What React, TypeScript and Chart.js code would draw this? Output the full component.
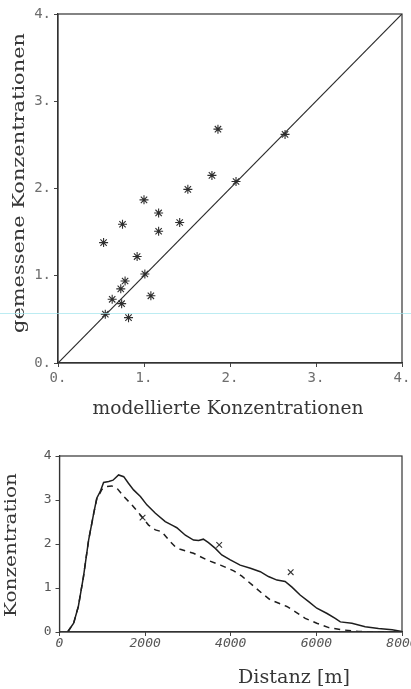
import React, { useEffect, useRef } from "react";
import { Chart, registerables } from "chart.js";

Chart.register(...registerables);

// ---------- top chart data ----------
const modelled = [0.53, 1.0, 1.17, 1.17, 0.75, 1.415, 1.51, 0.92, 1.01, 0.78, 0.73, 0.63, 0.74, 1.08, 0.55, 0.82, 2.07, 1.86, 1.79, 2.64];
const measured = [1.38, 1.87, 1.72, 1.51, 1.59, 1.61, 1.99, 1.22, 1.02, 0.94, 0.85, 0.73, 0.68, 0.77, 0.56, 0.52, 2.08, 2.68, 2.15, 2.62];
const diagonalX = [0, 4];
const diagonalY = [0, 4];

// ---------- bottom chart data ----------
const distSolid = [190, 330, 440, 560, 680, 800, 870, 950, 1030, 1150, 1250, 1380, 1500, 1610, 1730, 1890, 2040, 2240, 2470, 2660, 2740, 2940, 3130, 3250, 3360, 3480, 3640, 3790, 3990, 4220, 4460, 4690, 4880, 5080, 5270, 5430, 5620, 5820, 6010, 6250, 6440, 6560, 6830, 7140, 7450, 7770, 8000];
const concSolid = [0, 0.2, 0.58, 1.26, 2.09, 2.7, 3.04, 3.19, 3.4, 3.42, 3.45, 3.57, 3.53, 3.38, 3.23, 3.08, 2.89, 2.7, 2.51, 2.41, 2.37, 2.2, 2.09, 2.08, 2.11, 2.03, 1.9, 1.75, 1.64, 1.52, 1.45, 1.37, 1.26, 1.18, 1.15, 1.02, 0.84, 0.69, 0.54, 0.42, 0.31, 0.23, 0.2, 0.12, 0.08, 0.05, 0.01];
const distDashed = [190, 330, 440, 560, 680, 800, 870, 990, 1070, 1220, 1340, 1500, 1690, 1890, 2080, 2240, 2390, 2590, 2700, 2820, 3130, 3440, 3760, 4070, 4260, 4500, 4730, 4920, 5160, 5310, 5510, 5740, 6010, 6290, 6600, 6990, 8000];
const concDashed = [0, 0.2, 0.58, 1.26, 2.09, 2.7, 3.02, 3.24, 3.3, 3.32, 3.27, 3.08, 2.89, 2.66, 2.43, 2.32, 2.28, 2.05, 1.94, 1.88, 1.79, 1.64, 1.52, 1.39, 1.27, 1.07, 0.88, 0.73, 0.64, 0.58, 0.46, 0.31, 0.2, 0.1, 0.05, 0.01, 0];
const obsDist = [1940, 3730, 5400];
const obsConc = [2.6, 1.98, 1.36];

const topTicks = [0, 1, 2, 3, 4];
const bottomYTicks = [0, 1, 2, 3, 4];
const bottomXTicks = [0, 2000, 4000, 6000, 8000];

const zip = (xs: number[], ys: number[]) => xs.map((x, i) => ({ x, y: ys[i] }));

type TitleSpec = { text: string; x: number; y: number; width: number; size: number; rotate?: boolean };

function drawTitle(ctx: CanvasRenderingContext2D, t: TitleSpec) {
  ctx.save();
  ctx.font = `${t.size}px "DejaVu Serif"`;
  ctx.fillStyle = "#363636";
  ctx.textAlign = "center";
  ctx.textBaseline = "alphabetic";
  const w = ctx.measureText(t.text).width;
  const sx = t.width / w;
  ctx.translate(t.x, t.y);
  if (t.rotate) ctx.rotate(-Math.PI / 2);
  ctx.scale(sx, 1);
  ctx.fillText(t.text, 0, 0);
  ctx.restore();
}

const framePlugin = (titles: TitleSpec[]) => ({
  id: "frameTitles",
  afterDraw(chart: any) {
    const { ctx, chartArea: a } = chart;
    ctx.save();
    ctx.strokeStyle = "#333";
    ctx.lineWidth = 1.2;
    ctx.strokeRect(a.left, a.top, a.right - a.left, a.bottom - a.top);
    ctx.restore();
    titles.forEach((t) => drawTitle(ctx, t));
  },
});

export default function App() {
  const topRef = useRef<HTMLCanvasElement | null>(null);
  const botRef = useRef<HTMLCanvasElement | null>(null);

  useEffect(() => {
    const topTickFont = { family: "DejaVu Sans Mono", size: 14 };
    const top = new Chart(topRef.current as HTMLCanvasElement, {
      type: "scatter",
      data: {
        datasets: [
          {
            data: zip(diagonalX, diagonalY),
            showLine: true,
            borderColor: "#2a2a2a",
            borderWidth: 1.2,
            pointRadius: 0,
          },
          {
            data: zip(modelled, measured),
            pointStyle: "star",
            pointRadius: 4.5,
            borderColor: "#2e2e2e",
            backgroundColor: "#2e2e2e",
            pointBorderWidth: 1.1,
          } as any,
        ],
      },
      options: {
        animation: false,
        responsive: false,
        devicePixelRatio: 1,
        events: [],
        layout: { padding: { left: 0, right: 9, top: 14, bottom: 0 } },
        plugins: { legend: { display: false }, tooltip: { enabled: false } },
        scales: {
          x: {
            type: "linear",
            min: 0,
            max: 4,
            afterBuildTicks: (s: any) => { s.ticks = topTicks.map((v) => ({ value: v })); },
            ticks: { callback: (v: any) => `${v}.`, font: topTickFont, color: "#6e6e6e", padding: 3, maxRotation: 0 },
            grid: { drawOnChartArea: false, tickLength: 4, color: "#444" },
            border: { color: "#333", width: 1.2 },
            afterFit: (s: any) => { s.height = 67; s.paddingLeft = 0; s.paddingRight = 0; },
          },
          y: {
            type: "linear",
            min: 0,
            max: 4,
            afterBuildTicks: (s: any) => { s.ticks = topTicks.map((v) => ({ value: v })); },
            ticks: { callback: (v: any) => `${v}.`, font: topTickFont, color: "#6e6e6e", padding: 3 },
            grid: { drawOnChartArea: false, tickLength: 4, color: "#444" },
            border: { color: "#333", width: 1.2 },
            afterFit: (s: any) => { s.width = 58; s.paddingTop = 0; s.paddingBottom = 0; },
          },
        },
      } as any,
      plugins: [
        framePlugin([
          { text: "modellierte Konzentrationen", x: 228, y: 414, width: 271, size: 18 },
          { text: "gemessene Konzentrationen", x: 23.5, y: 183, width: 300, size: 17, rotate: true },
        ]),
      ],
    });

    const bot = new Chart(botRef.current as HTMLCanvasElement, {
      type: "scatter",
      data: {
        datasets: [
          {
            data: zip(distSolid, concSolid),
            showLine: true,
            borderColor: "#1e1e1e",
            borderWidth: 1.5,
            pointRadius: 0,
          },
          {
            data: zip(distDashed, concDashed),
            showLine: true,
            borderColor: "#1e1e1e",
            borderWidth: 1.5,
            borderDash: [6, 5],
            pointRadius: 0,
          },
          {
            data: zip(obsDist, obsConc),
            pointStyle: "crossRot",
            pointRadius: 4,
            borderColor: "#333",
            pointBorderWidth: 1.1,
          } as any,
        ],
      },
      options: {
        animation: false,
        responsive: false,
        devicePixelRatio: 1,
        events: [],
        layout: { padding: { left: 0, right: 9, top: 16, bottom: 0 } },
        plugins: { legend: { display: false }, tooltip: { enabled: false } },
        scales: {
          x: {
            type: "linear",
            min: 0,
            max: 8000,
            afterBuildTicks: (s: any) => { s.ticks = bottomXTicks.map((v) => ({ value: v })); },
            ticks: { callback: (v: any) => `${v}`, font: { family: "DejaVu Sans Mono", size: 13, style: "italic" }, color: "#555", padding: 0, maxRotation: 0, autoSkip: false },
            grid: { drawOnChartArea: false, tickLength: 4, color: "#444" },
            border: { color: "#333", width: 1.2 },
            afterFit: (s: any) => { s.height = 57; s.paddingLeft = 0; s.paddingRight = 0; },
          },
          y: {
            type: "linear",
            min: 0,
            max: 4,
            afterBuildTicks: (s: any) => { s.ticks = bottomYTicks.map((v) => ({ value: v })); },
            ticks: { callback: (v: any) => `${v}`, font: { family: "DejaVu Sans Mono", size: 13 }, color: "#555", padding: 4 },
            grid: { drawOnChartArea: false, tickLength: 4, color: "#444" },
            border: { color: "#333", width: 1.2 },
            afterFit: (s: any) => { s.width = 59.5; s.paddingTop = 0; s.paddingBottom = 0; },
          },
        },
      } as any,
      plugins: [
        framePlugin([
          { text: "Distanz [m]", x: 294, y: 243, width: 112, size: 18 },
          { text: "Konzentration", x: 15.5, y: 105, width: 144, size: 17, rotate: true },
        ]),
      ],
    });

    return () => {
      top.destroy();
      bot.destroy();
    };
  }, []);

  return (
    <div style={{ position: "absolute", left: 0, top: 0, width: 411, height: 689, background: "#fff", overflow: "hidden" }}>
      <canvas ref={topRef} width={411} height={430} style={{ position: "absolute", left: 0, top: 0, width: 411, height: 430 }} />
      <canvas ref={botRef} width={411} height={249} style={{ position: "absolute", left: 0, top: 440, width: 411, height: 249 }} />
      <div style={{ position: "absolute", left: 0, top: 313, width: 411, height: 1, background: "rgba(160,228,236,0.7)", pointerEvents: "none" }} />
    </div>
  );
}
